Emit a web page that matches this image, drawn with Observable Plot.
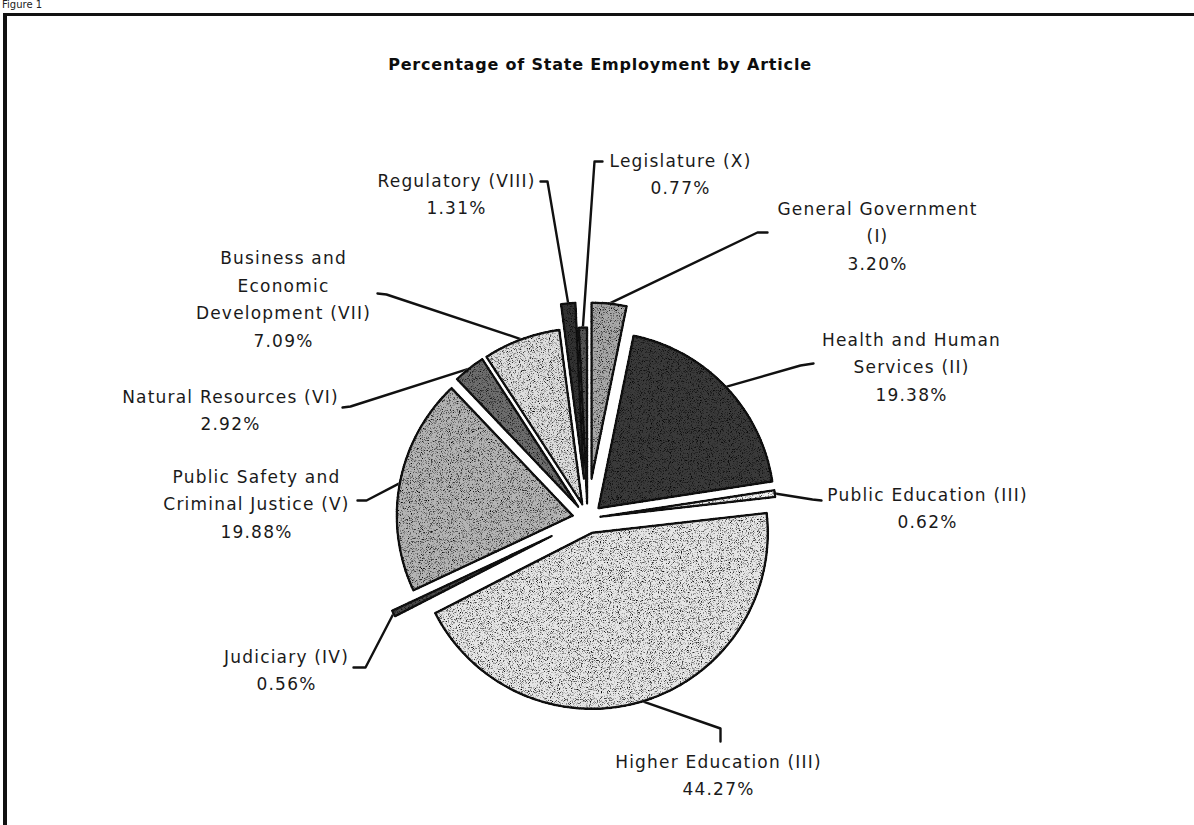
<!DOCTYPE html>
<html>
<head>
<meta charset="utf-8">
<script src="https://cdn.jsdelivr.net/npm/d3@7"></script>
<script src="https://cdn.jsdelivr.net/npm/@observablehq/plot@0.6"></script>
<style>
  html, body { margin: 0; padding: 0; background: #fff; overflow: hidden; }
  body { width: 1194px; height: 825px; position: relative; font-family: "DejaVu Sans", sans-serif; color: #111; }
  #figlabel { position: absolute; left: 2px; top: -1px; font-size: 10px; line-height: 12px; color: #222; }
  #frame { position: absolute; left: 3px; top: 13px; width: 1300px; height: 900px;
           border-left: 4px solid #111; border-top: 3px solid #111; }
  #title { position: absolute; left: 0; width: 1194px; top: 55px; text-align: center;
           font-weight: bold; font-size: 16px; letter-spacing: 0.8px; padding-left: 6px; box-sizing: border-box; color: #0d0d0d; }
  #chart { position: absolute; left: 0; top: 0; }
  #chart svg text { letter-spacing: 1.2px; }
</style>
</head>
<body>
<div id="figlabel">Figure 1</div>
<div id="frame"></div>
<div id="title">Percentage of State Employment by Article</div>
<div id="chart"></div>
<script>
// ---- data ----
const categories = [
  "General Government (I)",
  "Health and Human Services (II)",
  "Public Education (III)",
  "Higher Education (III)",
  "Judiciary (IV)",
  "Public Safety and Criminal Justice (V)",
  "Natural Resources (VI)",
  "Business and Economic Development (VII)",
  "Regulatory (VIII)",
  "Legislature (X)"
];
const shares = [3.20, 19.38, 0.62, 44.27, 0.56, 19.88, 2.92, 7.09, 1.31, 0.77];
const labelText = [
  "General Government\n(I)",
  "Health and Human\nServices (II)",
  "Public Education (III)",
  "Higher Education (III)",
  "Judiciary (IV)",
  "Public Safety and\nCriminal Justice (V)",
  "Natural Resources (VI)",
  "Business and\nEconomic\nDevelopment (VII)",
  "Regulatory (VIII)",
  "Legislature (X)"
];

// ---- styles / layout (not data) ----
const fills = ["#a8a8a8", "#3a3a3a", "#f2f2f2", "#e6e6e6", "#4a4a4a", "#b4b4b4", "#6e6e6e", "#dedede", "#333333", "#555555"];
const explode = [40, 15, 13, 15, 40, 15, 15, 15, 40, 15];
const center = [587, 518];
const radius = 176;
// label block centres and leader elbows (page pixel layout)
const labelPos = [[877, 233], [911, 364], [927, 505], [718, 772], [286, 667], [256, 501], [230, 407], [283, 296], [456, 191], [680, 171]];
const leaderElbows = [
  [[767, 232], [757, 232]],
  [[813, 363], [800, 365]],
  [[821, 500], [812, 499]],
  [[720, 741], [720, 728]],
  [[353, 667], [365, 667]],
  [[357, 500], [366, 500]],
  [[342, 407], [350, 406]],
  [[377, 293], [386, 294]],
  [[540, 181], [547, 181]],
  [[602, 161], [594, 161]]
];

const arcs = d3.pie().sort(null).value(d => d)(shares);
const pt = (o, r, a) => [o[0] + r * Math.sin(a), o[1] - r * Math.cos(a)];

const slicePts = [];
const leaderPts = [];
const labels = [];
arcs.forEach((a, i) => {
  const mid = (a.startAngle + a.endAngle) / 2;
  const o = pt(center, explode[i], mid);
  const n = Math.max(2, Math.ceil((a.endAngle - a.startAngle) / (Math.PI / 180)));
  slicePts.push({name: categories[i], x: o[0], y: o[1], fill: fills[i]});
  for (let k = 0; k <= n; k++) {
    const ang = a.startAngle + (a.endAngle - a.startAngle) * k / n;
    const p = pt(o, radius, ang);
    slicePts.push({name: categories[i], x: p[0], y: p[1], fill: fills[i]});
  }
  leaderElbows[i].forEach(p => leaderPts.push({name: categories[i], x: p[0], y: p[1]}));
  const tip = pt(o, radius, mid);
  leaderPts.push({name: categories[i], x: tip[0], y: tip[1]});
  labels.push({x: labelPos[i][0], y: labelPos[i][1], text: labelText[i] + "\n" + shares[i].toFixed(2) + "%"});
});

const chart = Plot.plot({
  width: 1194,
  height: 825,
  margin: 0,
  x: {domain: [0, 1194], range: [0, 1194], axis: null},
  y: {domain: [0, 825], range: [0, 825], axis: null},
  color: {type: "identity"},
  style: {background: "transparent", fontFamily: "DejaVu Sans, sans-serif"},
  marks: [
    Plot.line(leaderPts, {x: "x", y: "y", z: "name", stroke: "#111", strokeWidth: 2.4, curve: "linear"}),
    Plot.line(slicePts, {x: "x", y: "y", z: "name", fill: "fill", stroke: "#111", strokeWidth: 2.5, strokeLinejoin: "round", curve: "linear-closed", className: "slices"}),
    Plot.text(labels, {x: "x", y: "y", text: "text", fontSize: 17, lineHeight: 1.62, fill: "#1a1a1a", textAnchor: "middle", lineAnchor: "middle"})
  ]
});

// speckled print texture for the slices
const ns = "http://www.w3.org/2000/svg";
const defs = document.createElementNS(ns, "defs");
defs.innerHTML = `
<filter id="speckle" x="-5%" y="-5%" width="110%" height="110%" color-interpolation-filters="sRGB">
  <feTurbulence type="fractalNoise" baseFrequency="1.1" numOctaves="2" seed="5" result="n"/>
  <feColorMatrix in="n" type="matrix" values="1 0 0 0 0  1 0 0 0 0  1 0 0 0 0  0 0 0 0 1" result="g"/>
  <feComponentTransfer in="g" result="c">
    <feFuncR type="linear" slope="3.2" intercept="-0.55"/>
    <feFuncG type="linear" slope="3.2" intercept="-0.55"/>
    <feFuncB type="linear" slope="3.2" intercept="-0.55"/>
  </feComponentTransfer>
  <feBlend in="SourceGraphic" in2="c" mode="multiply" result="m"/>
  <feComposite in="m" in2="SourceGraphic" operator="in"/>
</filter>`;
chart.insertBefore(defs, chart.firstChild);
const g = chart.querySelector("g.slices") || chart.querySelectorAll("g[aria-label='line']")[1];
if (g) g.setAttribute("filter", "url(#speckle)");
document.getElementById("chart").appendChild(chart);
</script>
</body>
</html>
